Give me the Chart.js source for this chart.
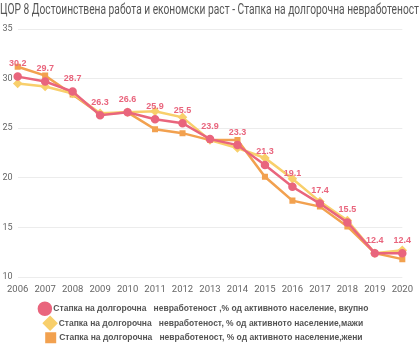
<!DOCTYPE html>
<html>
<head>
<meta charset="utf-8">
<script src="https://cdn.jsdelivr.net/npm/chart.js@4"></script>
<style>
  html, body { margin: 0; padding: 0; background: #fff; }
  #wrap { position: relative; width: 420px; height: 350px; overflow: hidden; }
  #title {
    position: absolute; left: 0; top: 1px; white-space: nowrap; display: inline-block;
    font-family: Roboto, sans-serif; font-size: 14px; color: #555;
    transform-origin: 0 0;
  }
  canvas { position: absolute; left: 0; top: 0; }
</style>
</head>
<body>
<div id="wrap">
  <canvas id="chart" width="420" height="350"></canvas>
  <span id="title">ЦОР 8 Достоинствена работа и економски раст - Стапка на долгорочна невработеност</span>
</div>
<script>
const years = ['2006', '2007', '2008', '2009', '2010', '2011', '2012', '2013', '2014', '2015', '2016', '2017', '2018', '2019', '2020'];
const total = [30.2, 29.7, 28.7, 26.3, 26.6, 25.9, 25.5, 23.9, 23.3, 21.3, 19.1, 17.4, 15.5, 12.4, 12.4];
const men = [29.5, 29.2, 28.5, 26.5, 26.6, 26.7, 26.1, 23.8, 23.0, 22.0, 19.9, 17.6, 15.7, 12.4, 12.7];
const women = [31.2, 30.3, 28.4, 26.4, 26.6, 24.9, 24.5, 23.8, 23.8, 20.1, 17.7, 17.1, 15.1, 12.4, 11.8];
const labels = [
  'Стапка на долгорочна   невработеност ,% од активното население, вкупно',
  'Стапка на долгорочна   невработеност, % од активното население,мажи',
  'Стапка на долгорочна   невработеност, % од активното население,жени'
];

const pink = '#e9657d';
const yellow = '#f8cf6b';
const orange = '#f2a14f';

// squeeze the title so it spans the full width like the original
const title = document.getElementById('title');
title.style.transform = 'scaleX(' + (419 / title.getBoundingClientRect().width) + ')';

// values above the total series
const valueLabels = {
  id: 'valueLabels',
  afterDatasetsDraw(chart) {
    const ctx = chart.ctx;
    const meta = chart.getDatasetMeta(0);
    ctx.save();
    ctx.font = 'bold 9px "Liberation Sans", sans-serif';
    ctx.fillStyle = pink;
    ctx.textAlign = 'center';
    ctx.textBaseline = 'middle';
    meta.data.forEach((pt, i) => {
      ctx.fillText(total[i].toFixed(1), pt.x, pt.y - 13);
    });
    ctx.restore();
  }
};

new Chart(document.getElementById('chart'), {
  type: 'line',
  data: {
    labels: years,
    datasets: [
      { label: labels[0], data: total, borderColor: pink, backgroundColor: pink, borderWidth: 2.5,
        pointStyle: 'circle', pointRadius: 3, tension: 0 },
      { label: labels[1], data: men, borderColor: yellow, backgroundColor: yellow, borderWidth: 2.5,
        pointStyle: 'rectRot', pointRadius: 3, tension: 0 },
      { label: labels[2], data: women, borderColor: orange, backgroundColor: orange, borderWidth: 2.5,
        pointStyle: 'rect', pointRadius: 2.5, tension: 0 }
    ]
  },
  options: {
    responsive: false,
    animation: false,
    layout: { padding: { top: 29, right: 11, left: 0, bottom: -2 } },
    plugins: {
      tooltip: { enabled: false },
      legend: {
        position: 'bottom',
        labels: {
          usePointStyle: true,
          boxHeight: 9,
          padding: 6,
          color: '#555',
          font: { family: '"Liberation Sans", sans-serif', size: 8.5, weight: 'bold' }
        }
      }
    },
    scales: {
      x: {
        grid: { display: false, drawTicks: false },
        border: { display: false },
        afterFit(scale) { scale.height = 21.5; },
        ticks: { color: '#666', padding: 7, maxRotation: 0, autoSkip: false,
          font: { family: 'Roboto, sans-serif', size: 9.5 } }
      },
      y: {
        min: 10, max: 35,
        grid: { color: '#ececec', drawTicks: false },
        border: { display: false },
        afterFit(scale) { scale.width = 17; },
        ticks: { stepSize: 5, color: '#666', padding: 5,
          font: { family: 'Roboto, sans-serif', size: 9 } }
      }
    }
  },
  plugins: [valueLabels]
});
</script>
</body>
</html>
